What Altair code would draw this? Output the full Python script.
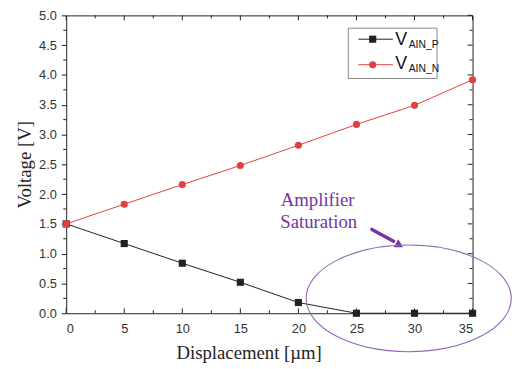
import altair as alt
import pandas as pd

# ---- data ----
displacement = [0, 5, 10, 15, 20, 25, 30, 35]
v_ain_p = [1.50, 1.17, 0.84, 0.52, 0.18, 0.0, 0.0, 0.0]
v_ain_n = [1.50, 1.83, 2.16, 2.48, 2.82, 3.17, 3.49, 3.92]

x_major = [0, 5, 10, 15, 20, 25, 30, 35]
x_minor = [2.5, 7.5, 12.5, 17.5, 22.5, 27.5, 32.5]
y_major = [0.0, 0.5, 1.0, 1.5, 2.0, 2.5, 3.0, 3.5, 4.0, 4.5, 5.0]
y_minor = [0.25, 0.75, 1.25, 1.75, 2.25, 2.75, 3.25, 3.75, 4.25, 4.75]

series_keys = ["P", "N"]
line_colors = ["#222222", "#e04040"]
point_colors = ["#000000", "#ee0000"]
point_shapes = ["square", "circle"]

# legend (in data coordinates)
legend_box = {"x": [24.3], "x2": [31.94], "y": [4.785], "y2": [3.94]}
legend_rows_y = [4.60, 4.172]
legend_line_x = [25.17, 28.14]
legend_marker_x = [26.4]
legend_v_x = 28.35
legend_sub_x = 29.5
legend_v_y = [4.503, 4.106]
legend_sub_y = [4.454, 4.056]
legend_subs = ["AIN_P", "AIN_N"]

# annotation (in data coordinates)
note_lines = ["Amplifier", "Saturation"]
note_x = [21.66, 21.75]
note_y = [1.904, 1.523]
arrow_from = (26.33, 1.407)
arrow_to = (28.2, 1.209)
arrow_head = (28.71, 1.142)
ellipse_center = (29.5, 0.25)

W, H = 412, 302
purple = "#7434a4"

df = pd.DataFrame(
    {
        "x": displacement * 2,
        "y": v_ain_p + v_ain_n,
        "series": ["P"] * len(displacement) + ["N"] * len(displacement),
    }
)

xscale = alt.Scale(domain=[0, 35], nice=False, zero=False)
yscale = alt.Scale(domain=[0, 5], nice=False, zero=False)

xaxis = alt.Axis(
    values=x_major,
    format="d",
    ticks=False,
    domain=False,
    grid=False,
    labelFont="Liberation Sans",
    labelFontSize=13,
    labelColor="#333333",
    labelPadding=10,
    title="Displacement [µm]",
    titleFont="Liberation Serif",
    titleFontSize=19,
    titleFontWeight="normal",
    titleColor="#222222",
    titleX=185,
    titleY=40,
    titleBaseline="middle",
    titleAlign="center",
)
yaxis = alt.Axis(
    values=y_major,
    format=".1f",
    ticks=True,
    tickSize=5,
    tickColor="#222222",
    domain=False,
    grid=False,
    labelFont="Liberation Sans",
    labelFontSize=13,
    labelColor="#333333",
    labelPadding=5,
    title="Voltage [V]",
    titleFont="Liberation Serif",
    titleFontSize=19,
    titleFontWeight="normal",
    titleColor="#222222",
    titleX=-42,
    titleY=H / 2,
    titleAngle=270,
    titleBaseline="middle",
    titleAlign="center",
)

X = alt.X("x:Q", scale=xscale, axis=xaxis)
Y = alt.Y("y:Q", scale=yscale, axis=yaxis)

lines = (
    alt.Chart(df)
    .mark_line(strokeWidth=1)
    .encode(
        x=X,
        y=Y,
        color=alt.Color(
            "series:N",
            scale=alt.Scale(domain=series_keys, range=line_colors),
            legend=None,
        ),
        detail="series:N",
    )
)

points = (
    alt.Chart(df)
    .mark_point(filled=True, opacity=1, size=52)
    .encode(
        x=X,
        y=Y,
        color=alt.Color(
            "series:N",
            scale=alt.Scale(domain=series_keys, range=point_colors),
            legend=None,
        ),
        shape=alt.Shape(
            "series:N",
            scale=alt.Scale(domain=series_keys, range=point_shapes),
            legend=None,
        ),
    )
)

# ---- ticks (manual, inward on bottom/top/right, outward minor on left) ----
tick_color = "#222222"
xmaj = pd.DataFrame({"x": x_major})
xmin = pd.DataFrame({"x": x_minor})
ymaj = pd.DataFrame({"y": y_major})
ymin = pd.DataFrame({"y": y_minor})

def xticks(data, ya, yb):
    return alt.Chart(data).mark_rule(color=tick_color, strokeWidth=1).encode(
        x=X, y=alt.value(ya), y2=alt.value(yb)
    )

def yticks(data, xa, xb):
    return alt.Chart(data).mark_rule(color=tick_color, strokeWidth=1).encode(
        y=Y, x=alt.value(xa), x2=alt.value(xb)
    )

ticks = [
    xticks(xmaj, H, H - 5),
    xticks(xmin, H, H - 3),
    xticks(xmaj, 0, 5),
    xticks(xmin, 0, 3),
    yticks(ymaj, W, W - 5),
    yticks(ymin, W, W - 3),
    yticks(ymin, 0, -3),
]

# ---- legend ----
box = (
    alt.Chart(pd.DataFrame(legend_box))
    .mark_rect(fill="white", stroke="#888888", strokeWidth=1)
    .encode(x=X, x2="x2:Q", y=Y, y2="y2:Q")
)
leg_lines_df = pd.DataFrame(
    {
        "x": [legend_line_x[0]] * 2,
        "x2": [legend_line_x[1]] * 2,
        "y": legend_rows_y,
        "series": series_keys,
    }
)
leg_lines = (
    alt.Chart(leg_lines_df)
    .mark_rule(strokeWidth=1)
    .encode(
        x=X,
        x2="x2:Q",
        y=Y,
        color=alt.Color(
            "series:N",
            scale=alt.Scale(domain=series_keys, range=line_colors),
            legend=None,
        ),
    )
)
leg_pts_df = pd.DataFrame(
    {"x": legend_marker_x * 2, "y": legend_rows_y, "series": series_keys}
)
leg_pts = (
    alt.Chart(leg_pts_df)
    .mark_point(filled=True, opacity=1, size=52)
    .encode(
        x=X,
        y=Y,
        color=alt.Color(
            "series:N",
            scale=alt.Scale(domain=series_keys, range=point_colors),
            legend=None,
        ),
        shape=alt.Shape(
            "series:N",
            scale=alt.Scale(domain=series_keys, range=point_shapes),
            legend=None,
        ),
    )
)
leg_v = (
    alt.Chart(pd.DataFrame({"x": [legend_v_x] * 2, "y": legend_v_y, "t": ["V", "V"]}))
    .mark_text(
        font="Liberation Sans", fontSize=18, align="left", baseline="alphabetic",
        color="#111111",
    )
    .encode(x=X, y=Y, text="t:N")
)
leg_sub = (
    alt.Chart(pd.DataFrame({"x": [legend_sub_x] * 2, "y": legend_sub_y, "t": legend_subs}))
    .mark_text(
        font="Liberation Sans", fontSize=10.5, align="left", baseline="alphabetic",
        color="#111111",
    )
    .encode(x=X, y=Y, text="t:N")
)

# ---- annotation ----
note = (
    alt.Chart(pd.DataFrame({"x": note_x, "y": note_y, "t": note_lines}))
    .mark_text(
        font="Liberation Serif", fontSize=19, align="center", baseline="middle",
        color=purple,
    )
    .encode(x=X, y=Y, text="t:N")
)
arrow_line = (
    alt.Chart(
        pd.DataFrame(
            {"x": [arrow_from[0]], "y": [arrow_from[1]], "x2": [arrow_to[0]], "y2": [arrow_to[1]]}
        )
    )
    .mark_rule(color=purple, strokeWidth=3.5, strokeCap="round")
    .encode(x=X, y=Y, x2="x2:Q", y2="y2:Q")
)
arrow_tip = (
    alt.Chart(pd.DataFrame({"x": [arrow_head[0]], "y": [arrow_head[1]]}))
    .mark_point(shape="triangle-right", filled=True, opacity=1, size=90, angle=30, color=purple)
    .encode(x=X, y=Y)
)
ellipse = (
    alt.Chart(pd.DataFrame({"x": [ellipse_center[0]], "y": [ellipse_center[1]]}))
    .mark_point(
        shape="M-1,0A1,0.52,0,1,0,1,0A1,0.52,0,1,0,-1,0Z",
        filled=False,
        opacity=1,
        size=43264,
        stroke="#9468b8",
        strokeWidth=1.1,
    )
    .encode(x=X, y=Y)
)

chart = (
    alt.layer(
        lines, points, *ticks, box, leg_lines, leg_pts, leg_v, leg_sub,
        note, arrow_line, arrow_tip, ellipse,
    )
    .properties(
        width=W,
        height=H,
        padding={"left": 59, "top": 5, "right": 40, "bottom": 51},
        autosize=alt.AutoSizeParams(type="none"),
        background="white",
    )
    .configure_view(stroke="#222222", strokeWidth=1)
)

chart.save("out.html", embed_options={"renderer": "svg", "actions": False})
